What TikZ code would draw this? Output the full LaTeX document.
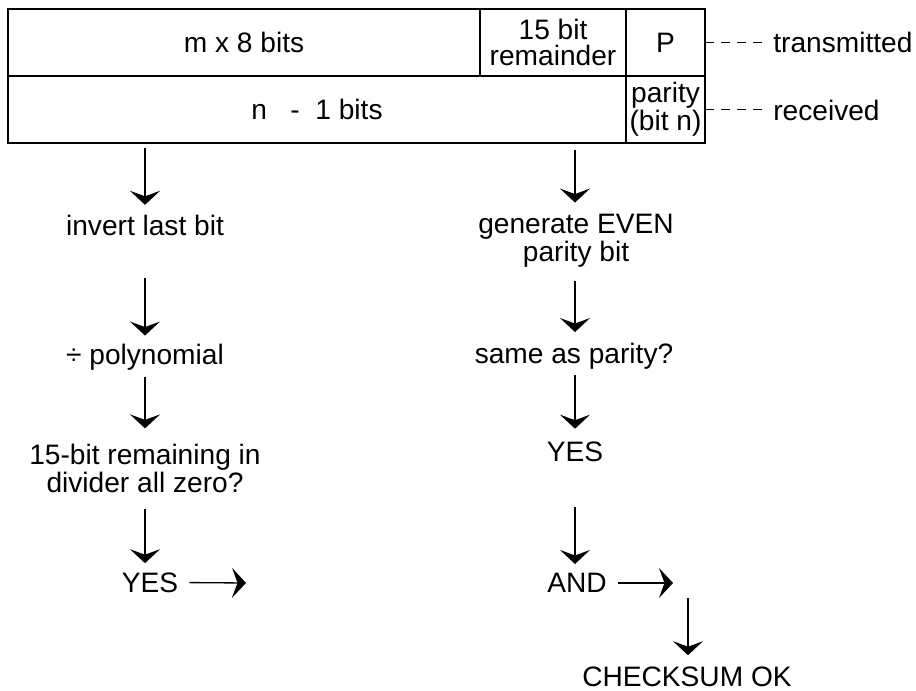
\documentclass[tikz,border=0pt]{standalone}
\usepackage{fontspec}
\setmainfont{Liberation Sans}
\usetikzlibrary{arrows.meta, positioning}

\begin{document}
\begin{tikzpicture}[x=0.2mm, y=-0.2mm,
        every node/.style={inner sep=0pt, align=center, font=\fontsize{16}{18}\selectfont},
        cell/.style={draw, line width=0.6pt, outer sep=0pt, minimum height=13.4mm},
        arrow/.style={line width=0.75pt, -{Stealth[length=2.8mm, width=6mm, inset=1.1mm]}},
        link/.style={line width=0.6pt, dash pattern=on 1.8mm off 1.4mm}
      ]
        \useasboundingbox (0,0) rectangle (916,691);

        % Frame fields
        \node (mbits) [cell, minimum width=94.4mm] at (244,42.5) {m x 8 bits};
        \node (rem) [cell, minimum width=29.2mm, right=0pt of mbits, font=\fontsize{16}{14.5}\selectfont] {15 bit\\remainder};
        \node (pbit) [cell, minimum width=15.8mm, right=0pt of rem] {P};
        \node (nbits) [cell, minimum width=123.6mm, anchor=north west] at (mbits.south west) {n~~ -~~1 bits};
        \node (par) [cell, minimum width=15.8mm, right=0pt of nbits, font=\fontsize{16}{12}\selectfont] {parity\\(bit n)};

        \node (trans) [anchor=west] at (773,42) {transmitted};
        \node (recv) [anchor=west] at (773,110) {received};
        \draw [link, shorten >=1.6mm] (pbit.east) -- (pbit.east -| trans.west);
        \draw [link, shorten >=1.6mm] (par.east) -- (par.east -| recv.west);

        % CRC check
        \node (inv) at (145,225.5) {invert last bit};
        \node (poly) at (145,357) {÷ polynomial};
        \node (zero) [font=\fontsize{16}{16.4}\selectfont] at (145,468.5) {15-bit remaining in\\divider all zero?};
        \node (yesL) at (150,582.5) {YES};
        \coordinate (yesLend) at (246,583);

        % Parity check
        \node (gen) [font=\fontsize{16}{12.5}\selectfont] at (576,240.5) {generate EVEN\\parity bit};
        \node (same) at (574,356.5) {same as parity?};
        \node (yesR) at (575,452) {YES};
        \node (andR) at (577,583) {AND};
        \coordinate (andend) at (673,583);
        \coordinate (chkin) at (688,598);
        \node (chk) at (687,676.5) {CHECKSUM OK};

        % Arrows for CRC check
        \draw [arrow, shorten <=1mm, shorten >=2mm] (inv.north |- nbits.south) -- (inv.north);
        \draw [arrow, shorten <=8.4mm, shorten >=1.6mm] (inv.south) -- (poly.north);
        \draw [arrow, shorten <=1.4mm, shorten >=3mm] (poly.south) -- (zero.north);
        \draw [arrow, shorten <=3mm, shorten >=1.8mm] (zero.south) -- (zero.south |- yesL.north);
        \draw [arrow, shorten <=2.2mm] (yesL.east) -- (yesLend);

        % Arrows for parity check
        \draw [arrow, shorten <=1.4mm, shorten >=2.2mm] (yesR.north |- nbits.south) -- (yesR.north |- gen.north);
        \draw [arrow, shorten <=2.8mm, shorten >=2.2mm] (yesR.north |- gen.south) -- (yesR.north |- same.north);
        \draw [arrow, shorten <=1mm, shorten >=2.6mm] (yesR.north |- same.south) -- (yesR.north);
        \draw [arrow, shorten <=9mm, shorten >=1.8mm] (yesR.south) -- (yesR.south |- andR.north);
        \draw [arrow, shorten <=2.2mm] (andR.east) -- (andend);
        \draw [arrow, shorten >=2.2mm] (chkin) -- (chkin |- chk.north);
      \end{tikzpicture}
\end{document}
